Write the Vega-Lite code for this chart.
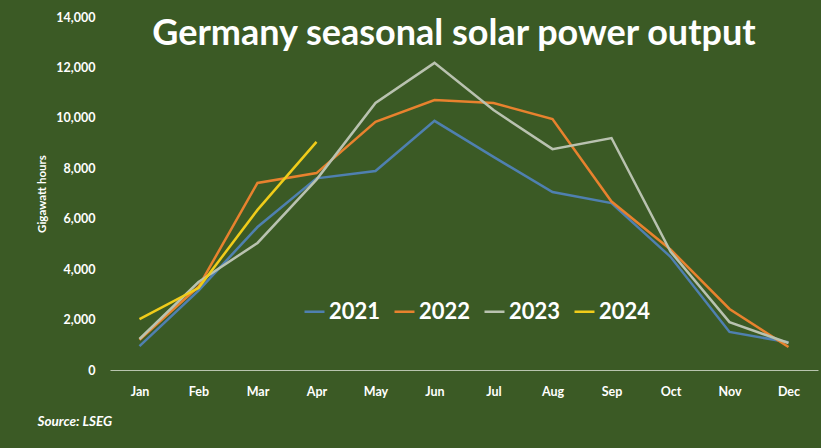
{
  "$schema": "https://vega.github.io/schema/vega-lite/v6.json",
  "width": 708,
  "height": 353,
  "autosize": {"type": "none"},
  "padding": {"left": 110, "top": 17, "right": 3, "bottom": 78},
  "background": "#3b5a25",
  "title": {
    "text": "Germany seasonal solar power output",
    "font": "Lato",
    "fontSize": 36,
    "fontWeight": "bold",
    "color": "#ffffff",
    "anchor": "middle",
    "frame": "group",
    "offset": 0,
    "dy": 42,
    "dx": -10
  },
  "data": {
    "values": [
      {"month": "Jan", "year": "2021", "gwh": 950},
      {"month": "Feb", "year": "2021", "gwh": 3150},
      {"month": "Mar", "year": "2021", "gwh": 5670},
      {"month": "Apr", "year": "2021", "gwh": 7600},
      {"month": "May", "year": "2021", "gwh": 7890},
      {"month": "Jun", "year": "2021", "gwh": 9880},
      {"month": "Jul", "year": "2021", "gwh": 8450},
      {"month": "Aug", "year": "2021", "gwh": 7060},
      {"month": "Sep", "year": "2021", "gwh": 6620},
      {"month": "Oct", "year": "2021", "gwh": 4490},
      {"month": "Nov", "year": "2021", "gwh": 1510},
      {"month": "Dec", "year": "2021", "gwh": 1100},
      {"month": "Jan", "year": "2022", "gwh": 1200},
      {"month": "Feb", "year": "2022", "gwh": 3300},
      {"month": "Mar", "year": "2022", "gwh": 7420},
      {"month": "Apr", "year": "2022", "gwh": 7810},
      {"month": "May", "year": "2022", "gwh": 9840},
      {"month": "Jun", "year": "2022", "gwh": 10710},
      {"month": "Jul", "year": "2022", "gwh": 10590},
      {"month": "Aug", "year": "2022", "gwh": 9950},
      {"month": "Sep", "year": "2022", "gwh": 6680},
      {"month": "Oct", "year": "2022", "gwh": 4780},
      {"month": "Nov", "year": "2022", "gwh": 2420},
      {"month": "Dec", "year": "2022", "gwh": 910},
      {"month": "Jan", "year": "2023", "gwh": 1230},
      {"month": "Feb", "year": "2023", "gwh": 3490},
      {"month": "Mar", "year": "2023", "gwh": 5040},
      {"month": "Apr", "year": "2023", "gwh": 7550},
      {"month": "May", "year": "2023", "gwh": 10590},
      {"month": "Jun", "year": "2023", "gwh": 12180},
      {"month": "Jul", "year": "2023", "gwh": 10310},
      {"month": "Aug", "year": "2023", "gwh": 8760},
      {"month": "Sep", "year": "2023", "gwh": 9200},
      {"month": "Oct", "year": "2023", "gwh": 4700},
      {"month": "Nov", "year": "2023", "gwh": 1900},
      {"month": "Dec", "year": "2023", "gwh": 1070},
      {"month": "Jan", "year": "2024", "gwh": 2020},
      {"month": "Feb", "year": "2024", "gwh": 3250},
      {"month": "Mar", "year": "2024", "gwh": 6350},
      {"month": "Apr", "year": "2024", "gwh": 9050}
    ]
  },
  "mark": {"type": "line", "strokeWidth": 2.5},
  "encoding": {
    "x": {
      "field": "month",
      "type": "ordinal",
      "sort": ["Jan","Feb","Mar","Apr","May","Jun","Jul","Aug","Sep","Oct","Nov","Dec"],
      "scale": {"type": "point", "padding": 0.5},
      "axis": {
        "title": "Source: LSEG",
        "titleFont": "Lato",
        "titleFontSize": 13.5,
        "titleFontWeight": "bold",
        "titleFontStyle": "italic",
        "titleColor": "#ffffff",
        "titleAnchor": "start",
        "titleAlign": "left",
        "titleX": -73,
        "titleY": 44,
        "labelAngle": 0,
        "labelFont": "Lato",
        "labelFontSize": 12.5,
        "labelFontWeight": "bold",
        "labelColor": "#ffffff",
        "labelPadding": 15,
        "ticks": false,
        "domainColor": "#b8c4ae",
        "domainWidth": 1,
        "grid": false
      }
    },
    "y": {
      "field": "gwh",
      "type": "quantitative",
      "scale": {"domain": [0, 14000]},
      "axis": {
        "title": "Gigawatt hours",
        "titleFont": "Lato",
        "titleFontSize": 11.5,
        "titleFontWeight": "bold",
        "titleColor": "#ffffff",
        "titlePadding": 8,
        "values": [0, 2000, 4000, 6000, 8000, 10000, 12000, 14000],
        "format": ",.0f",
        "labelFont": "Lato",
        "labelFontSize": 12.5,
        "labelFontWeight": "bold",
        "labelColor": "#ffffff",
        "labelPadding": 15,
        "ticks": false,
        "domain": false,
        "grid": false
      }
    },
    "color": {
      "field": "year",
      "type": "nominal",
      "scale": {
        "domain": ["2021", "2022", "2023", "2024"],
        "range": ["#4f80b0", "#e8822e", "#b9c2b0", "#f0cc1a"]
      },
      "legend": {
        "title": null,
        "orient": "none",
        "legendX": 193,
        "legendY": 283,
        "direction": "horizontal",
        "symbolType": "stroke",
        "symbolSize": 400,
        "symbolStrokeWidth": 2.5,
        "labelFont": "Lato",
        "labelFontSize": 22,
        "labelFontWeight": "bold",
        "labelColor": "#ffffff",
        "labelOffset": 3,
        "columnPadding": 8
      }
    }
  },
  "config": {"view": {"stroke": null}}
}
